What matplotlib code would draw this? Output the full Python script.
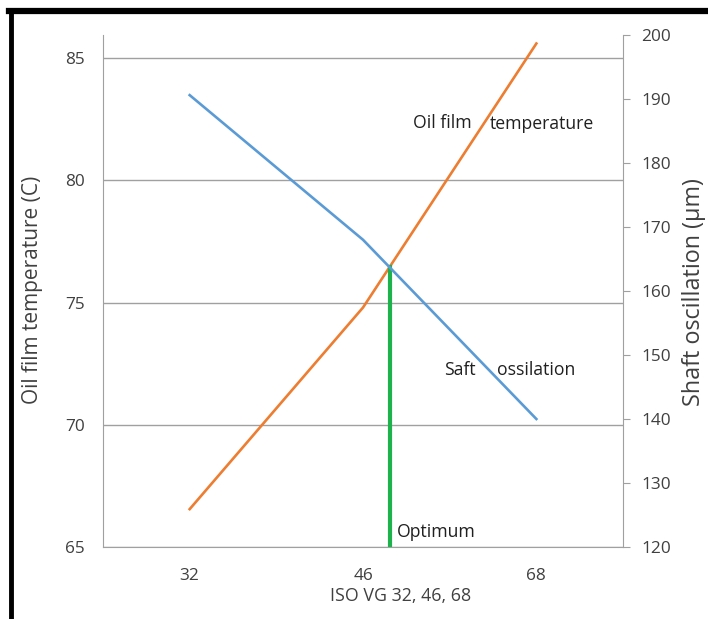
import numpy as np
import matplotlib
matplotlib.use("Agg")
import matplotlib.pyplot as plt
from matplotlib.lines import Line2D

plt.rcParams['font.family'] = ['Open Sans', 'DejaVu Sans']

grades = ["32", "46", "68"]
oil_temp = [66.55, 74.8, 85.6]          # left axis, C
shaft_osc = [190.6, 168.0, 140.0]       # right axis, um

temp_lim = (65, 85.95)
osc_lim = (120, 200)

fig = plt.figure(figsize=(7.08, 6.19), dpi=100)
ax = fig.add_axes([0.1455, 0.1163, 0.7345, 0.8272])
ax2 = ax.twinx()

x = np.arange(len(grades))

ax.plot(x, oil_temp, color="#ED7D31", lw=1.9, zorder=3)
ax.set_ylim(*temp_lim)
ax.set_xlim(-0.5, len(grades) - 0.5)
ax.set_yticks([65, 70, 75, 80, 85])
ax.yaxis.grid(True, color="#a0a0a0", lw=1.0)
ax.set_axisbelow(True)

ax2.plot(x, shaft_osc, color="#5B9BD5", lw=1.9, zorder=3)
ax2.set_ylim(*osc_lim)
ax2.set_yticks(range(120, 201, 10))

# intersection of the two curves, in left-axis units
osc_in_temp = temp_lim[0] + (np.array(shaft_osc) - osc_lim[0]) * \
    (temp_lim[1] - temp_lim[0]) / (osc_lim[1] - osc_lim[0])
diff = np.array(oil_temp) - osc_in_temp
i = np.where(np.diff(np.sign(diff)) != 0)[0][0]
t = diff[i] / (diff[i] - diff[i + 1])
x_opt = x[i] + t
y_opt = oil_temp[i] + t * (oil_temp[i + 1] - oil_temp[i])
ax.plot([x_opt, x_opt], [temp_lim[0], y_opt], color="#1DB24B", lw=3, zorder=4)

ax.set_xticks(x)
ax.set_xticklabels(grades)

for a in (ax, ax2):
    for s in a.spines.values():
        s.set_visible(False)
ax.spines["left"].set_visible(True)
ax.spines["left"].set_color("#a0a0a0")
ax.spines["bottom"].set_visible(True)
ax.spines["bottom"].set_color("#a0a0a0")
ax2.spines["right"].set_visible(True)
ax2.spines["right"].set_color("#a0a0a0")

ax.tick_params(axis="y", length=0, labelsize=12.4, colors="#404040", pad=13)
ax.tick_params(axis="x", length=0, labelsize=12.4, colors="#404040", pad=15)
ax2.tick_params(axis="y", length=5, color="#a0a0a0", labelsize=12.4, labelcolor="#404040", pad=8)

# axis titles
ax.text(0.573, -0.096, "ISO VG 32, 46, 68", transform=ax.transAxes,
        fontsize=12.8, color="#404040", ha="center", va="center")
fig.text(0.046, 1 - 290 / 619, "Oil film temperature (C)", rotation=90,
         fontsize=15, color="#404040", ha="center", va="center")
fig.text(0.980, 1 - 292 / 619, "Shaft oscillation (\u00b5m)", rotation=90,
         fontsize=16.8, color="#404040", ha="center", va="center")

tk = dict(fontsize=12.7, color="#202020", va="center", ha="left")
ax.text(1.289, 82.33, "Oil film", **tk)
ax.text(1.733, 82.3, "temperature", **tk)
ax.text(1.468, 72.23, "Saft", **tk)
ax.text(1.774, 72.23, "ossilation", **tk)
ax.text(1.196, 65.6, "Optimum", **tk)

# frame around the picture (left and top edges visible)
fig.add_artist(Line2D([0.0155, 0.0155], [0, 0.984], color="black", lw=3.5))
fig.add_artist(Line2D([0.013, 1.0], [0.982, 0.982], color="black", lw=4.5))

fig.savefig("out.png", dpi=100)
